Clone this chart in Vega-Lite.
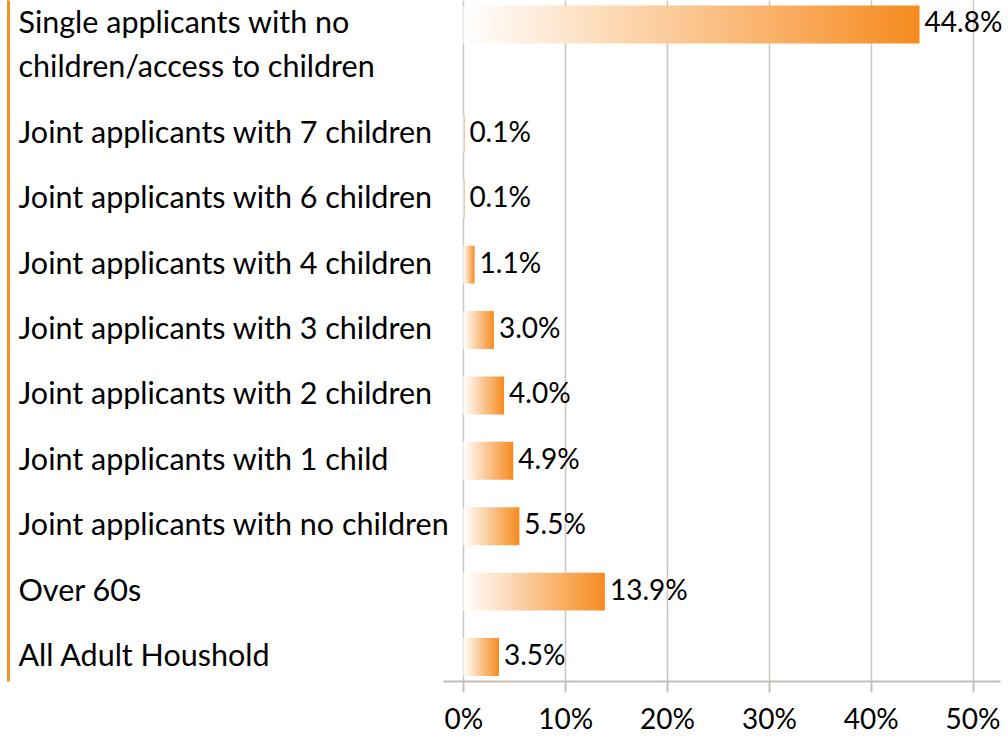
{
  "$schema": "https://vega.github.io/schema/vega-lite/v6.json",
  "width": 557,
  "height": 681,
  "autosize": {"type": "none"},
  "padding": {"left": 443, "top": 0, "right": 8, "bottom": 65},
  "background": "white",
  "config": {"view": {"stroke": null}, "font": "Lato"},
  "data": {
    "values": [
      {"group": "Single applicants with no children/access to children", "share": 0.448},
      {"group": "Joint applicants with 7 children", "share": 0.001},
      {"group": "Joint applicants with 6 children", "share": 0.001},
      {"group": "Joint applicants with 4 children", "share": 0.011},
      {"group": "Joint applicants with 3 children", "share": 0.030},
      {"group": "Joint applicants with 2 children", "share": 0.040},
      {"group": "Joint applicants with 1 child", "share": 0.049},
      {"group": "Joint applicants with no children", "share": 0.055},
      {"group": "Over 60s", "share": 0.139},
      {"group": "All Adult Houshold", "share": 0.035}
    ]
  },
  "encoding": {
    "y": {
      "field": "group",
      "type": "nominal",
      "sort": null,
      "title": null,
      "scale": {"paddingInner": 0.42, "paddingOuter": 0.4165, "align": 0.908},
      "axis": {
        "offset": 435,
        "domainColor": "#f7931e",
        "domainWidth": 3,
        "ticks": false,
        "tickSize": 0,
        "labelAlign": "left",
        "labelPadding": -10,
        "labelFontSize": 30.5,
        "labelColor": "#000000",
        "labelFont": "Lato",
        "labelLimit": 0,
        "labelLineHeight": 44,
        "labelOffset": {"condition": {"test": "datum.value == 'Single applicants with no children/access to children'", "value": -44}, "value": 0},
        "labelExpr": "datum.value == 'Single applicants with no children/access to children' ? ['Single applicants with no', 'children/access to children'] : datum.value"
      }
    },
    "x": {
      "field": "share",
      "type": "quantitative",
      "title": null,
      "scale": {"domain": [-0.02, 0.527], "nice": false, "zero": false},
      "axis": {
        "values": [0, 0.1, 0.2, 0.3, 0.4, 0.5],
        "format": ".0%",
        "grid": true,
        "gridColor": "#cdc6bf",
        "gridWidth": 1.5,
        "domainColor": "#c6beb6",
        "domainWidth": 2,
        "tickColor": "#c6beb6",
        "tickWidth": 2,
        "tickSize": 11,
        "labelFontSize": 28,
        "labelColor": "#000000",
        "labelPadding": 14,
        "labelFont": "Lato"
      }
    }
  },
  "layer": [
    {
      "mark": {
        "type": "bar",
        "x": {"expr": "scale('x', 0)"},
        "yOffset": {"expr": "datum.group == 'Single applicants with no children/access to children' ? -44 : 0"},
        "color": {
          "gradient": "linear",
          "x1": 0, "y1": 0, "x2": 1, "y2": 0,
          "stops": [
            {"offset": 0, "color": "#ffffff"},
            {"offset": 1, "color": "#f68b1f"}
          ]
        }
      },
      "encoding": {}
    },
    {
      "mark": {
        "type": "text", "align": "left", "baseline": "middle", "dx": 5, "fontSize": 28, "color": "#000000", "font": "Lato",
        "yOffset": {"expr": "datum.group == 'Single applicants with no children/access to children' ? -44 : 0"}
      },
      "encoding": {
        "text": {"field": "share", "type": "quantitative", "format": ".1%"}
      }
    }
  ]
}
